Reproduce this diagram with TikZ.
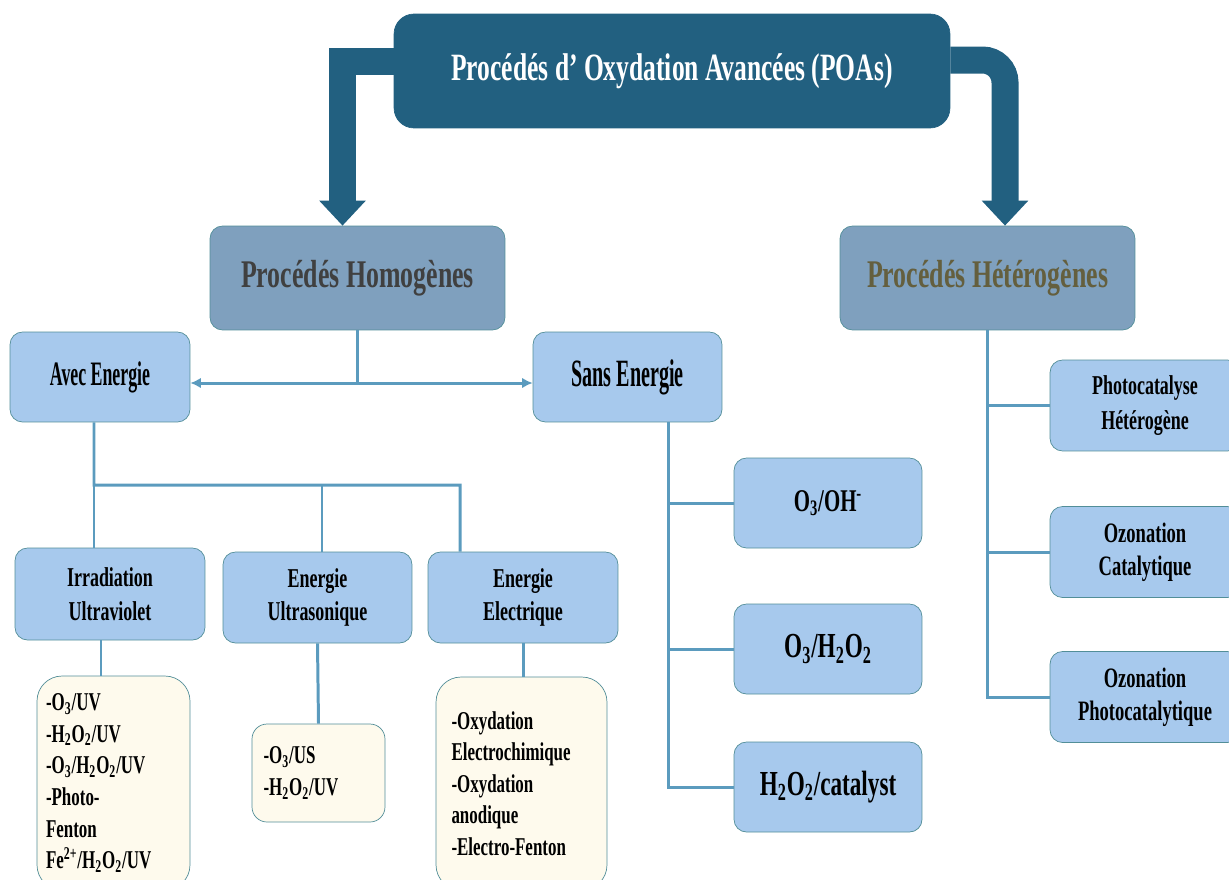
\documentclass[tikz,border=0pt]{standalone}
\usepackage{fontspec}
\setmainfont{Liberation Serif}[FakeStretch=0.66]
\newfontfamily\narrowserif{Liberation Serif Bold}[FakeStretch=0.52]
\usepackage{tikz}
\usetikzlibrary{
	positioning,
	arrows.meta,
	calc
}
\definecolor{POATeal}{RGB}{34,96,128}
\definecolor{GroupBlue}{RGB}{127,160,190}
\definecolor{BoxBlue}{RGB}{167,201,237}
\definecolor{BoxEdge}{RGB}{82,142,152}
\definecolor{LinkBlue}{RGB}{91,155,190}
\definecolor{SoftCream}{RGB}{254,250,237}
\definecolor{HomoText}{RGB}{64,64,64}
\definecolor{HeteroText}{RGB}{100,95,62}

\begin{document}
\begin{tikzpicture}[x=0.02cm,y=-0.02cm,
	groupbox/.style={draw=BoxEdge, fill=GroupBlue, rounded corners=0.25cm,
		minimum width=5.9cm, minimum height=2.08cm,
		font=\fontsize{22.3}{26}\selectfont\bfseries},
	kindbox/.style={draw=BoxEdge, fill=BoxBlue, rounded corners=0.25cm,
		minimum height=1.8cm, align=center, font=\bfseries},
	listbox/.style={draw=BoxEdge, fill=SoftCream, align=left,
		font=\fontsize{14.6}{18}\selectfont\bfseries},
	link/.style={LinkBlue, line width=1.7pt},
	bigarrow/.style={POATeal, line width=0.54cm,
		-{Triangle[width=0.9cm,length=0.5cm]}}
	]
	\useasboundingbox (0,0) rectangle (1229,879);
	
	% top
	\node[
	draw=POATeal,
	fill=POATeal,
	rounded corners=0.4cm,
	minimum width=11.12cm,
	minimum height=2.28cm,
	text=white,
	font=\fontsize{22}{26}\selectfont\bfseries
	] (POA) at (672,71) {Procédés d’ Oxydation Avancées (POAs)};
	
	\node[groupbox, text=HomoText] (Homo) at (357.5,278) {Procédés Homogènes};
	\node[groupbox, text=HeteroText] (Hetero) at (987.5,278) {Procédés Hétérogènes};
	
	\draw[bigarrow] ([yshift=0.2cm]POA.west) -| ([xshift=-0.3cm]Homo.north);
	\draw[bigarrow, rounded corners=0.45cm] ([yshift=0.22cm]POA.east) -| ([xshift=0.35cm]Hetero.north);
	
	% homogenes
	\node[kindbox, minimum width=3.6cm, font=\narrowserif\fontsize{19.5}{22}\selectfont] (Avec) at (100,377) {Avec Energie};
	\node[kindbox, minimum width=3.78cm, font=\narrowserif\fontsize{22}{24}\selectfont] (Sans) at (627.5,377) {Sans Energie};
	
	\coordinate (HomoSplit) at (357.5,383);
	\draw[link] (Homo.south) -- (HomoSplit);
	\draw[link, {Latex[length=6pt,width=6pt]}-{Latex[length=6pt,width=6pt]}] (Avec.east |- HomoSplit) -- (Sans.west |- HomoSplit);
	
	\node[kindbox, minimum width=3.8cm, minimum height=1.84cm, font=\fontsize{15.5}{19}\selectfont\bfseries] (Irrad) at (110,594) {Irradiation\\Ultraviolet};
	\node[kindbox, minimum width=3.78cm, minimum height=1.82cm, font=\fontsize{15.5}{19}\selectfont\bfseries] (Ultra) at (317.5,597.5) {Energie\\Ultrasonique};
	\node[kindbox, minimum width=3.8cm, minimum height=1.82cm, font=\fontsize{15.5}{19}\selectfont\bfseries] (Elec) at (523,597.5) {Energie\\Electrique};
	
	\coordinate (AvecBus) at (94,485);
	\draw[link] ([xshift=-0.12cm]Avec.south) -- (AvecBus) -| ([xshift=-1.26cm]Elec.north);
	\draw[link] (AvecBus) -- (AvecBus |- Irrad.north);
	\draw[link] ([xshift=0.09cm]Ultra.north) -- ([xshift=0.09cm]Ultra.north |- AvecBus);
	
	\node[listbox, rounded corners=0.5cm, minimum width=3.06cm, minimum height=4.28cm, text width=2.7cm] (ListUV) at (113.5,783) {-O\textsubscript{3}/UV\\-H\textsubscript{2}O\textsubscript{2}/UV\\-O\textsubscript{3}/H\textsubscript{2}O\textsubscript{2}/UV\\-Photo-\\Fenton\\Fe\textsuperscript{2+}/H\textsubscript{2}O\textsubscript{2}/UV};
	\node[listbox, rounded corners=0.3cm, minimum width=2.66cm, minimum height=1.96cm, text width=2.2cm] (ListUS) at (318.5,773) {-O\textsubscript{3}/US\\-H\textsubscript{2}O\textsubscript{2}/UV};
	\node[listbox, rounded corners=0.5cm, minimum width=3.42cm, minimum height=4.26cm, text width=2.8cm] (ListEl) at (521.5,783.5) {-Oxydation\\Electrochimique\\-Oxydation\\anodique\\-Electro-Fenton};
	
	\draw[link] ([xshift=-0.18cm]Irrad.south) -- ([xshift=-0.18cm]Irrad.south |- ListUV.north);
	\draw[link] (Ultra.south) -- (ListUS.north);
	\draw[link] (Elec.south) -- (Elec.south |- ListEl.north);
	
	% sans energie
	\node[kindbox, minimum width=3.76cm, font=\fontsize{18}{21}\selectfont\bfseries] (OzOH) at (828,503) {O\textsubscript{3}/OH\textsuperscript{-}};
	\node[kindbox, minimum width=3.76cm, font=\fontsize{20}{23}\selectfont\bfseries] (OzPer) at (828,649) {O\textsubscript{3}/H\textsubscript{2}O\textsubscript{2}};
	\node[kindbox, minimum width=3.76cm, font=\fontsize{20}{23}\selectfont\bfseries] (PerCat) at (828,787) {H\textsubscript{2}O\textsubscript{2}/catalyst};
	
	\coordinate (SansSpine) at (668,422);
	\draw[link] (SansSpine) |- (PerCat.west);
	\draw[link] (SansSpine |- OzOH.west) -- (OzOH.west);
	\draw[link] (SansSpine |- OzPer.west) -- (OzPer.west);
	
	% heterogenes
	\node[kindbox, minimum width=3.8cm, minimum height=1.82cm, font=\fontsize{15.5}{20}\selectfont\bfseries] (Photo) at (1145,405.5) {Photocatalyse\\Hétérogène};
	\node[kindbox, minimum width=3.8cm, minimum height=1.82cm, font=\fontsize{16}{19}\selectfont\bfseries] (OzCat) at (1145,552) {Ozonation\\Catalytique};
	\node[kindbox, minimum width=3.8cm, minimum height=1.82cm, font=\fontsize{16}{19}\selectfont\bfseries] (OzPhoto) at (1145,697) {Ozonation\\Photocatalytique};
	
	\draw[link] (Hetero.south) |- (OzPhoto.west);
	\draw[link] (Hetero.south |- Photo.west) -- (Photo.west);
	\draw[link] (Hetero.south |- OzCat.west) -- (OzCat.west);
	
\end{tikzpicture}
\end{document}
